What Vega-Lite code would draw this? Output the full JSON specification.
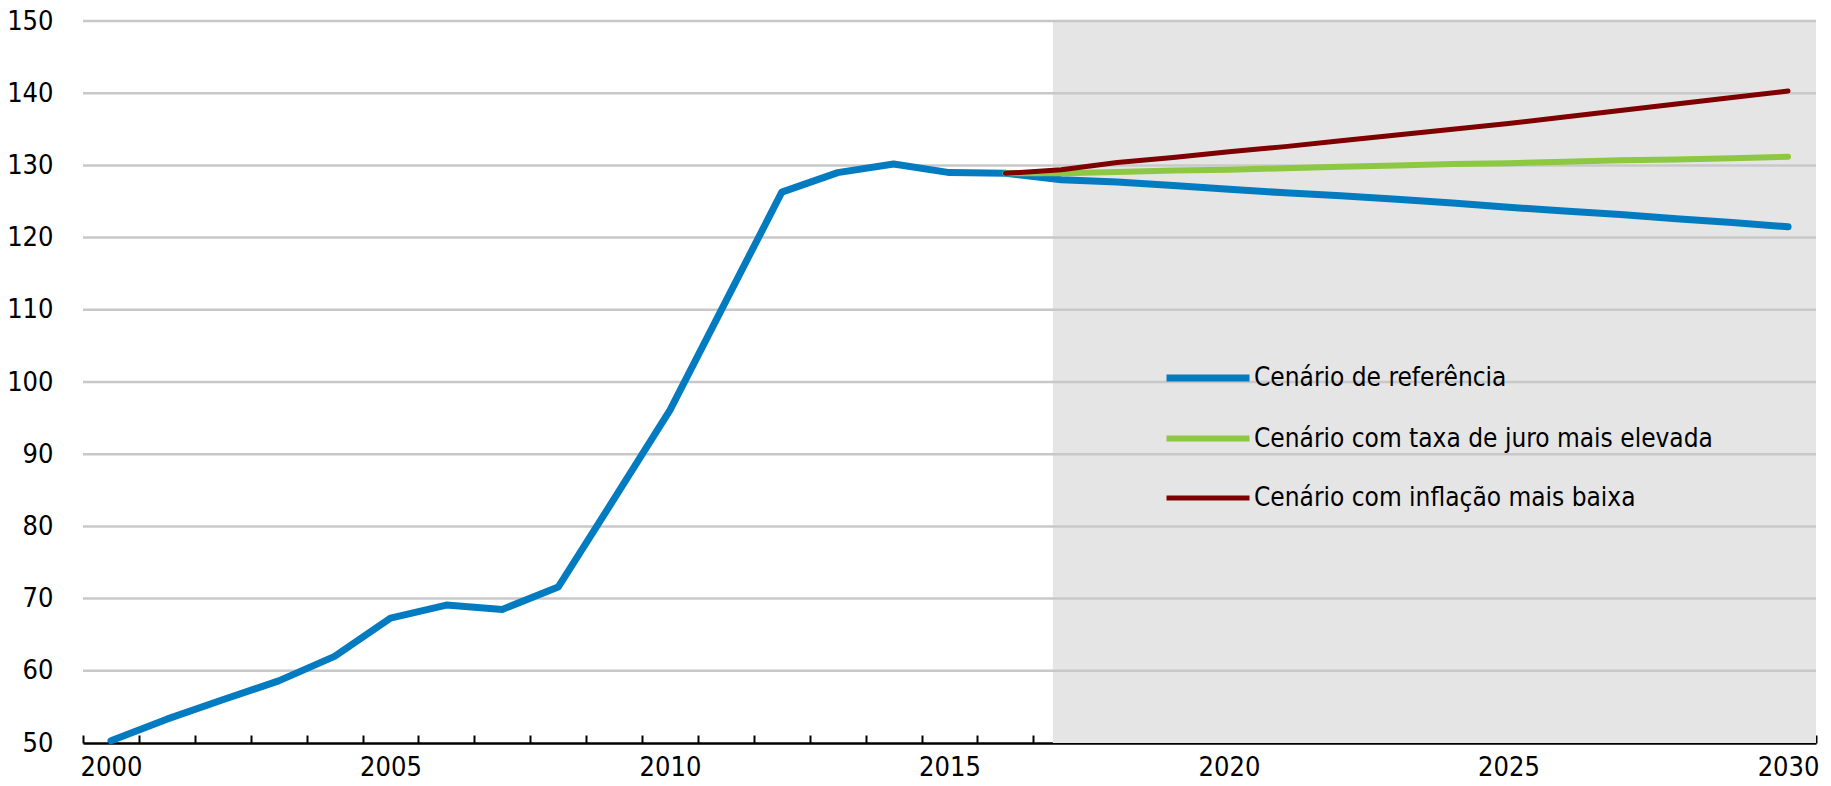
{
  "$schema": "https://vega.github.io/schema/vega-lite/v6.json",
  "width": 1733,
  "height": 722,
  "autosize": {"type": "none"},
  "padding": {"left": 83, "top": 21, "right": 15, "bottom": 43},
  "background": "white",
  "config": {"view": {"stroke": null}, "font": "DejaVu Sans Condensed"},
  "datasets": {
    "lines": [
      {"year": 2000, "series": "Cenário de referência", "value": 50.3},
      {"year": 2001, "series": "Cenário de referência", "value": 53.3},
      {"year": 2002, "series": "Cenário de referência", "value": 56.0},
      {"year": 2003, "series": "Cenário de referência", "value": 58.6},
      {"year": 2004, "series": "Cenário de referência", "value": 62.0},
      {"year": 2005, "series": "Cenário de referência", "value": 67.3},
      {"year": 2006, "series": "Cenário de referência", "value": 69.1},
      {"year": 2007, "series": "Cenário de referência", "value": 68.5},
      {"year": 2008, "series": "Cenário de referência", "value": 71.6},
      {"year": 2009, "series": "Cenário de referência", "value": 83.8},
      {"year": 2010, "series": "Cenário de referência", "value": 96.1},
      {"year": 2011, "series": "Cenário de referência", "value": 111.2},
      {"year": 2012, "series": "Cenário de referência", "value": 126.3},
      {"year": 2013, "series": "Cenário de referência", "value": 129.0},
      {"year": 2014, "series": "Cenário de referência", "value": 130.2},
      {"year": 2015, "series": "Cenário de referência", "value": 129.0},
      {"year": 2016, "series": "Cenário de referência", "value": 128.9},
      {"year": 2017, "series": "Cenário de referência", "value": 128.0},
      {"year": 2018, "series": "Cenário de referência", "value": 127.7},
      {"year": 2019, "series": "Cenário de referência", "value": 127.2},
      {"year": 2020, "series": "Cenário de referência", "value": 126.7},
      {"year": 2021, "series": "Cenário de referência", "value": 126.2},
      {"year": 2022, "series": "Cenário de referência", "value": 125.8},
      {"year": 2023, "series": "Cenário de referência", "value": 125.3},
      {"year": 2024, "series": "Cenário de referência", "value": 124.8},
      {"year": 2025, "series": "Cenário de referência", "value": 124.2},
      {"year": 2026, "series": "Cenário de referência", "value": 123.7},
      {"year": 2027, "series": "Cenário de referência", "value": 123.2},
      {"year": 2028, "series": "Cenário de referência", "value": 122.6},
      {"year": 2029, "series": "Cenário de referência", "value": 122.1},
      {"year": 2030, "series": "Cenário de referência", "value": 121.5},
      {"year": 2016, "series": "Cenário com taxa de juro mais elevada", "value": 128.9},
      {"year": 2017, "series": "Cenário com taxa de juro mais elevada", "value": 128.9},
      {"year": 2018, "series": "Cenário com taxa de juro mais elevada", "value": 129.1},
      {"year": 2019, "series": "Cenário com taxa de juro mais elevada", "value": 129.3},
      {"year": 2020, "series": "Cenário com taxa de juro mais elevada", "value": 129.4},
      {"year": 2021, "series": "Cenário com taxa de juro mais elevada", "value": 129.6},
      {"year": 2022, "series": "Cenário com taxa de juro mais elevada", "value": 129.8},
      {"year": 2023, "series": "Cenário com taxa de juro mais elevada", "value": 130.0},
      {"year": 2024, "series": "Cenário com taxa de juro mais elevada", "value": 130.2},
      {"year": 2025, "series": "Cenário com taxa de juro mais elevada", "value": 130.3},
      {"year": 2026, "series": "Cenário com taxa de juro mais elevada", "value": 130.5},
      {"year": 2027, "series": "Cenário com taxa de juro mais elevada", "value": 130.7},
      {"year": 2028, "series": "Cenário com taxa de juro mais elevada", "value": 130.8},
      {"year": 2029, "series": "Cenário com taxa de juro mais elevada", "value": 131.0},
      {"year": 2030, "series": "Cenário com taxa de juro mais elevada", "value": 131.2},
      {"year": 2016, "series": "Cenário com inflação mais baixa", "value": 128.9},
      {"year": 2017, "series": "Cenário com inflação mais baixa", "value": 129.4},
      {"year": 2018, "series": "Cenário com inflação mais baixa", "value": 130.4},
      {"year": 2019, "series": "Cenário com inflação mais baixa", "value": 131.1},
      {"year": 2020, "series": "Cenário com inflação mais baixa", "value": 131.9},
      {"year": 2021, "series": "Cenário com inflação mais baixa", "value": 132.6},
      {"year": 2022, "series": "Cenário com inflação mais baixa", "value": 133.4},
      {"year": 2023, "series": "Cenário com inflação mais baixa", "value": 134.2},
      {"year": 2024, "series": "Cenário com inflação mais baixa", "value": 135.0},
      {"year": 2025, "series": "Cenário com inflação mais baixa", "value": 135.8},
      {"year": 2026, "series": "Cenário com inflação mais baixa", "value": 136.7},
      {"year": 2027, "series": "Cenário com inflação mais baixa", "value": 137.6},
      {"year": 2028, "series": "Cenário com inflação mais baixa", "value": 138.5},
      {"year": 2029, "series": "Cenário com inflação mais baixa", "value": 139.4},
      {"year": 2030, "series": "Cenário com inflação mais baixa", "value": 140.3}
    ],
    "shade": [{"start": 2016.85, "end": 2030.5}],
    "grid": [{"v": 60}, {"v": 70}, {"v": 80}, {"v": 90}, {"v": 100}, {"v": 110}, {"v": 120}, {"v": 130}, {"v": 140}, {"v": 150}]
  },
  "encoding": {
    "x": {
      "type": "quantitative",
      "scale": {"domain": [1999.5, 2030.5], "nice": false, "zero": false},
      "axis": {
        "values": [1999.5, 2000.5, 2001.5, 2002.5, 2003.5, 2004.5, 2005.5, 2006.5, 2007.5, 2008.5, 2009.5, 2010.5, 2011.5, 2012.5, 2013.5, 2014.5, 2015.5, 2016.5, 2017.5, 2018.5, 2019.5, 2020.5, 2021.5, 2022.5, 2023.5, 2024.5, 2025.5, 2026.5, 2027.5, 2028.5, 2029.5, 2030.5],
        "labelExpr": "(datum.value + 0.5) % 5 == 0 ? format(datum.value + 0.5, 'd') : ''",
        "labelOffset": 27.95,
        "labelOverlap": false,
        "labelBound": false,
        "labelFlush": false,
        "labelFontSize": 27,
        "labelColor": "black",
        "labelPadding": 19,
        "tickSize": -8,
        "tickWidth": 2,
        "tickColor": "black",
        "domainColor": "black",
        "domainWidth": 2.5,
        "grid": false,
        "title": null
      }
    }
  },
  "layer": [
    {
      "data": {"name": "shade"},
      "mark": {"type": "rect", "color": "#E5E5E5"},
      "encoding": {
        "x": {"field": "start", "type": "quantitative"},
        "x2": {"field": "end"}
      }
    },
    {
      "data": {"name": "grid"},
      "mark": {"type": "rule", "color": "#C8C8C8", "strokeWidth": 2.5},
      "encoding": {
        "y": {
          "field": "v",
          "type": "quantitative",
          "scale": {"domain": [50, 150], "nice": false, "zero": false},
          "axis": {
            "values": [50, 60, 70, 80, 90, 100, 110, 120, 130, 140, 150],
            "domain": false,
            "ticks": false,
            "grid": false,
            "labelFontSize": 27,
            "labelColor": "black",
            "labelPadding": 30,
            "title": null
          }
        }
      }
    },
    {
      "data": {"name": "lines"},
      "transform": [{"filter": "datum.series == 'Cenário de referência'"}],
      "mark": {"type": "line", "strokeCap": "round", "strokeJoin": "round"},
      "encoding": {
        "x": {"field": "year", "type": "quantitative"},
        "y": {"field": "value", "type": "quantitative"},
        "color": {
          "field": "series",
          "type": "nominal",
          "scale": {"domain": ["Cenário de referência", "Cenário com taxa de juro mais elevada", "Cenário com inflação mais baixa"], "range": ["#037BC1", "#8CC841", "#7F0000"]},
          "legend": {
            "orient": "none",
            "legendX": 1080,
            "legendY": 312,
            "title": null,
            "padding": 0,
            "symbolType": "stroke",
            "symbolSize": 6889,
            "labelFontSize": 26,
            "labelColor": "black",
            "labelOffset": 1,
            "labelLimit": 0,
            "rowPadding": 2
          }
        },
        "strokeWidth": {
          "field": "series",
          "type": "nominal",
          "scale": {"domain": ["Cenário de referência", "Cenário com taxa de juro mais elevada", "Cenário com inflação mais baixa"], "range": [7, 5, 3.5]},
          "legend": {
            "orient": "none",
            "legendX": 1080,
            "legendY": 312,
            "title": null,
            "padding": 0,
            "symbolType": "stroke",
            "symbolSize": 6889,
            "labelFontSize": 26,
            "labelColor": "black",
            "labelOffset": 1,
            "labelLimit": 0,
            "rowPadding": 2
          }
        }
      }
    },
    {
      "data": {"name": "lines"},
      "transform": [{"filter": "datum.series == 'Cenário com taxa de juro mais elevada'"}],
      "mark": {"type": "line", "strokeCap": "round", "strokeJoin": "round"},
      "encoding": {
        "x": {"field": "year", "type": "quantitative"},
        "y": {"field": "value", "type": "quantitative"},
        "color": {"field": "series", "type": "nominal"},
        "strokeWidth": {"field": "series", "type": "nominal"}
      }
    },
    {
      "data": {"name": "lines"},
      "transform": [{"filter": "datum.series == 'Cenário com inflação mais baixa'"}],
      "mark": {"type": "line", "strokeCap": "round", "strokeJoin": "round"},
      "encoding": {
        "x": {"field": "year", "type": "quantitative"},
        "y": {"field": "value", "type": "quantitative"},
        "color": {"field": "series", "type": "nominal"},
        "strokeWidth": {"field": "series", "type": "nominal"}
      }
    }
  ]
}
